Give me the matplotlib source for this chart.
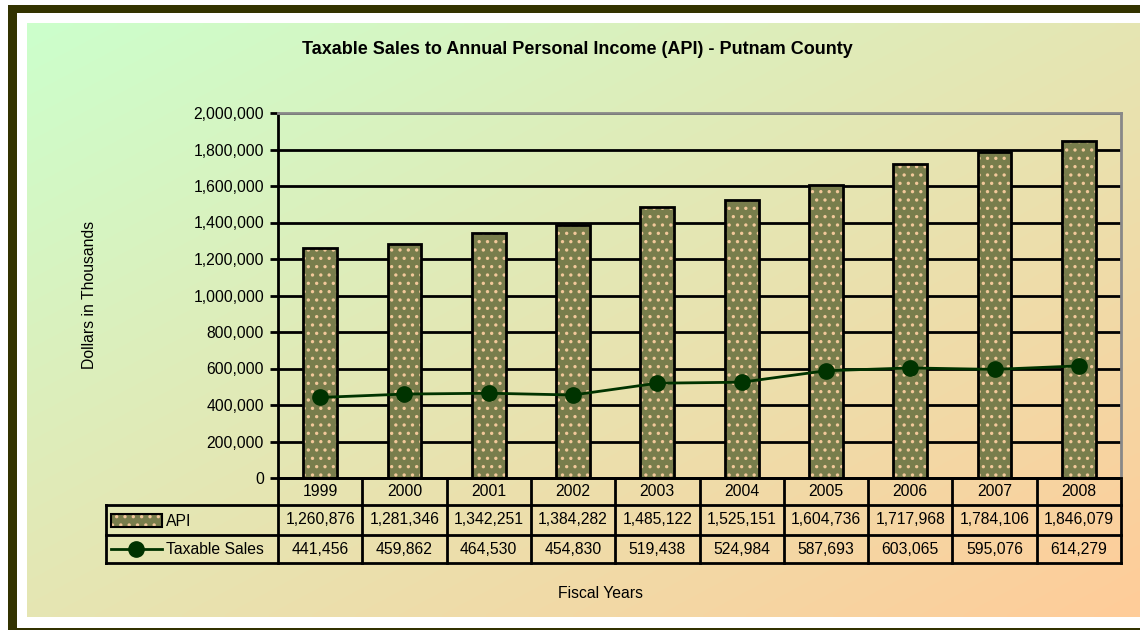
import numpy as np
import matplotlib.pyplot as plt
from matplotlib.patches import Rectangle
import matplotlib.transforms as mtrans

plt.rcParams['font.family'] = ['Liberation Sans', 'DejaVu Sans']
plt.rcParams['hatch.linewidth'] = 1.2

years = ['1999', '2000', '2001', '2002', '2003', '2004', '2005', '2006', '2007', '2008']
api = [1260876, 1281346, 1342251, 1384282, 1485122, 1525151, 1604736, 1717968, 1784106, 1846079]
taxable_sales = [441456, 459862, 464530, 454830, 519438, 524984, 587693, 603065, 595076, 614279]

W, H = 1140, 630
FS = 11.3
BAR_FACE = '#787d4c'
BAR_DOTS = '#f2c89a'
fig = plt.figure(figsize=(W / 100, H / 100), dpi=100, facecolor='white')

# background frame + gradient
bg = fig.add_axes([0, 0, 1, 1])
bg.set_xlim(0, W)
bg.set_ylim(H, 0)
bg.axis('off')
bg.add_patch(Rectangle((8, 5), W, 8, color='#333300', lw=0))
bg.add_patch(Rectangle((8, 5), 9, H, color='#333300', lw=0))
bg.add_patch(Rectangle((8, 628), W, 5, color='#333300', lw=0))
gx, gy = np.meshgrid(np.linspace(0, 1, 200), np.linspace(0, 1, 120))
t = (gx + gy) / 2
c0 = np.array([204, 255, 204]) / 255
c1 = np.array([255, 204, 153]) / 255
img = c0[None, None, :] * (1 - t[..., None]) + c1[None, None, :] * t[..., None]
bg.imshow(img, extent=(27, W, 617, 23), aspect='auto', interpolation='bilinear')

L, R, T, B = 278, 1121, 113, 478
ax = fig.add_axes([L / W, 1 - B / H, (R - L) / W, (B - T) / H])
ax.patch.set_alpha(0)
x = np.arange(len(years))
ax.bar(x, api, width=0.4, color=BAR_FACE, edgecolor=BAR_DOTS, hatch='..', linewidth=0, zorder=2)
ax.bar(x, api, width=0.4, fill=False, edgecolor='black', linewidth=2, zorder=3)
ax.plot(x, taxable_sales, color='#003300', lw=2, marker='o', ms=11, zorder=4)

ax.set_xlim(-0.5, 9.5)
ax.set_ylim(0, 2000000)
ax.set_yticks(np.arange(0, 2000001, 200000))
ax.set_yticklabels([f'{v:,}' for v in range(0, 2000001, 200000)], fontsize=FS)
ax.yaxis.grid(True, color='black', lw=2, zorder=1)
ax.set_axisbelow(True)
ax.set_xticks([])
ax.tick_params(axis='y', length=6, width=2, pad=4)
ax.spines['left'].set_linewidth(2)
ax.spines['bottom'].set_linewidth(2)
ax.spines['top'].set_color('#888888')
ax.spines['right'].set_color('#888888')
ax.spines['top'].set_linewidth(2)
ax.spines['right'].set_linewidth(2)

# data table below the plot
tr = mtrans.blended_transform_factory(ax.transData, bg.transData)
for i in range(len(years) + 1):
    bg.plot([L + i * (R - L) / 10] * 2, [478, 563], color='black', lw=2, zorder=5)
bg.plot([106, 106], [505, 563], color='black', lw=2)
bg.plot([L, R], [478, 478], color='black', lw=2)
for yy in [505, 535, 563]:
    bg.plot([106, R], [yy, yy], color='black', lw=2)
for i, yr in enumerate(years):
    ax.text(i, 492, yr, transform=tr, ha='center', va='center', fontsize=FS)
    ax.text(i, 520, f'{api[i]:,}', transform=tr, ha='center', va='center', fontsize=FS)
    ax.text(i, 549, f'{taxable_sales[i]:,}', transform=tr, ha='center', va='center', fontsize=FS)

# legend keys in the table
bg.add_patch(Rectangle((111, 514), 51, 13, facecolor=BAR_FACE, edgecolor=BAR_DOTS, hatch='..', lw=0))
bg.add_patch(Rectangle((111, 514), 51, 13, fill=False, edgecolor='black', lw=1.5))
bg.text(166, 521, 'API', fontsize=FS, va='center')
bg.plot([111, 162], [549, 549], color='#003300', lw=2)
bg.plot([136], [549], marker='o', ms=11, color='#003300')
bg.text(166, 549, 'Taxable Sales', fontsize=FS, va='center')

bg.text(577, 50, 'Taxable Sales to Annual Personal Income (API) - Putnam County',
        ha='center', va='center', fontsize=13, fontweight='bold')
bg.text(600, 593, 'Fiscal Years', ha='center', va='center', fontsize=FS)
bg.text(90, 295, 'Dollars in Thousands', ha='center', va='center', rotation=90, fontsize=FS)

fig.savefig('out.png', dpi=100)
